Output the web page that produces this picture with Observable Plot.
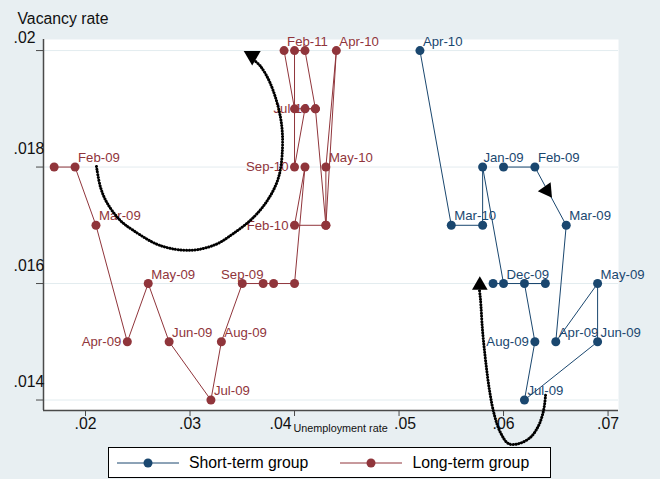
<!DOCTYPE html>
<html>
<head>
<meta charset="utf-8">
<script src="https://cdn.jsdelivr.net/npm/d3@7"></script>
<script src="https://cdn.jsdelivr.net/npm/@observablehq/plot@0.6"></script>
<style>
  html, body { margin: 0; padding: 0; background: #e8eff2; }
  body { width: 660px; height: 479px; overflow: hidden; position: relative;
         font-family: "Liberation Sans", Arial, Helvetica, sans-serif; }
  #chart svg { display: block; }
  #legend { position: absolute; left: 108px; top: 447px; width: 443px; height: 31px;
            box-sizing: border-box; background: #fff; border: 1px solid #000;
            display: flex; align-items: center; padding-left: 8px; }
  #legend .item { display: flex; align-items: center; }
  #legend .item + .item { margin-left: 32px; }
  #legend span { margin-left: 10px; font-size: 15.8px; color: #000; white-space: nowrap; }
</style>
</head>
<body>
<div id="chart"></div>
<div id="legend"></div>
<script>
// ---------- data ----------
const seriesNames = ["Short-term group", "Long-term group"];
const seriesColors = ["#1a476f", "#90353b"];

const shortMonths = ["Jan-09","Feb-09","Mar-09","Apr-09","May-09","Jun-09","Jul-09","Aug-09",
                     "Sep-09","Oct-09","Nov-09","Dec-09","Jan-10","Feb-10","Mar-10","Apr-10"];
const shortUnemployment = [0.060,0.063,0.066,0.065,0.069,0.069,0.062,0.063,
                           0.062,0.064,0.059,0.060,0.058,0.058,0.055,0.052];
const shortVacancy = [0.018,0.018,0.017,0.015,0.016,0.015,0.014,0.015,
                      0.016,0.016,0.016,0.016,0.018,0.017,0.017,0.020];
const shortLabelled = ["Jan-09","Feb-09","Mar-09","Apr-09","May-09","Jun-09","Jul-09","Aug-09",
                       "Dec-09","Mar-10","Apr-10"];

const longMonths = ["Jan-09","Feb-09","Mar-09","Apr-09","May-09","Jun-09","Jul-09","Aug-09",
                    "Sep-09","Oct-09","Nov-09","Dec-09","Jan-10","Feb-10","Mar-10","Apr-10",
                    "May-10","Jun-10","Jul-10","Aug-10","Sep-10","Oct-10","Nov-10","Dec-10",
                    "Jan-11","Feb-11"];
const longUnemployment = [0.017,0.019,0.021,0.024,0.026,0.028,0.032,0.033,
                          0.035,0.037,0.038,0.040,0.041,0.040,0.043,0.044,
                          0.043,0.043,0.042,0.041,0.040,0.040,0.041,0.042,
                          0.040,0.039];
const longVacancy = [0.018,0.018,0.017,0.015,0.016,0.015,0.014,0.015,
                     0.016,0.016,0.016,0.016,0.018,0.017,0.017,0.020,
                     0.018,0.017,0.019,0.019,0.018,0.020,0.020,0.019,
                     0.019,0.020];
const longLabelled = ["Feb-09","Mar-09","Apr-09","May-09","Jun-09","Jul-09","Aug-09","Sep-09",
                      "Feb-10","Apr-10","May-10","Jul-10","Sep-10","Feb-11"];

const xTicks = [0.02, 0.03, 0.04, 0.05, 0.06, 0.07];
const xTickLabels = [".02", ".03", ".04", ".05", ".06", ".07"];
const yTicks = [0.014, 0.016, 0.018, 0.02];
const yTickLabels = [".014", ".016", ".018", ".02"];
const xTitle = "Unemployment rate";
const yTitle = "Vacancy rate";

// annotation arrows (dotted arcs and heads), in data units
const arcLeftU = [0.02105,0.02144,0.02211,0.02335,0.02459,0.02718,0.03005,0.03244,0.03416,
                  0.03598,0.03742,0.03847,0.03885,0.03866,0.03770,0.03675,0.03617];
const arcLeftV = [0.01801,0.01765,0.01737,0.01708,0.01691,0.01665,0.01657,0.01667,0.01686,
                  0.01712,0.01743,0.01782,0.01834,0.01885,0.01943,0.01973,0.01983];
const arcRightU = [0.06402,0.06383,0.06335,0.06258,0.06144,0.06048,0.05971,0.05914,0.05866,
                   0.05828,0.05799,0.05780,0.05770];
const arcRightV = [0.01408,0.01382,0.01356,0.01336,0.01325,0.01325,0.01344,0.01373,0.01416,
                   0.01468,0.01519,0.01571,0.01588];
const headU = [0.03595, 0.06414, 0.05773];
const headV = [0.01991, 0.01760, 0.01597];

// ---------- presentation ----------
const labelSide = {
  "Short-term group": {"Aug-09": "left", "Jan-09": "above"},
  "Long-term group": {"Apr-09": "left", "Feb-10": "left", "Jul-10": "left", "Sep-10": "left", "Sep-09": "above"}
};
const headRotate = [180, 145, 0];
const xDomain = [0.01598, 0.0710];
const yDomain = [0.01382, 0.02019];

function build(name, months, u, v, labelled) {
  return months.map((m, i) => ({
    series: name, month: m, u: u[i], v: v[i],
    label: labelled.includes(m) ? m : "",
    side: labelSide[name][m] || "right"
  }));
}
const rows = [
  ...build(seriesNames[0], shortMonths, shortUnemployment, shortVacancy, shortLabelled),
  ...build(seriesNames[1], longMonths, longUnemployment, longVacancy, longLabelled)
];
const arcLeft = arcLeftU.map((u, i) => ({u, v: arcLeftV[i]}));
const arcRight = arcRightU.map((u, i) => ({u, v: arcRightV[i]}));
const heads = headU.map((u, i) => ({u, v: headV[i]}));
const xt = xTicks.map((t, i) => ({t, s: xTickLabels[i]}));
const yt = yTicks.map((t, i) => ({t, s: yTickLabels[i]}));

const font = "Liberation Sans, Arial, Helvetica, sans-serif";
const axisColor = "#4a4a4a";
const dotted = {stroke: "black", strokeWidth: 3, strokeDasharray: "0.1 2.7", strokeLinecap: "round", curve: "catmull-rom"};

const chart = Plot.plot({
  width: 660, height: 445,
  marginLeft: 43, marginRight: 42, marginTop: 39, marginBottom: 35,
  style: {background: "transparent", fontFamily: font, overflow: "visible"},
  x: {domain: xDomain, axis: null},
  y: {domain: yDomain, axis: null},
  color: {domain: seriesNames, range: seriesColors},
  marks: [
    Plot.frame({fill: "white", stroke: "none"}),
    Plot.ruleY(yTicks, {stroke: "#e3ecef", strokeWidth: 1}),
    Plot.ruleX([xDomain[0]], {stroke: axisColor, strokeWidth: 1.5}),
    Plot.ruleY([yDomain[0]], {stroke: axisColor, strokeWidth: 1.5}),
    Plot.axisY(yTicks, {anchor: "left", tickSize: 7, fill: "none", stroke: axisColor, label: null}),
    Plot.axisX(xTicks, {anchor: "bottom", tickSize: 6, fill: "none", stroke: axisColor, label: null}),
    // y tick labels (Stata style, above the ticks)
    Plot.text(yt.filter(d => d.t !== 0.02), {y: "t", text: "s", frameAnchor: "left", dx: -30, dy: -18,
      textAnchor: "start", fontSize: 15.8, fill: "#111"}),
    Plot.text(yt.filter(d => d.t === 0.02), {y: "t", text: "s", frameAnchor: "left", dx: -30, dy: -13,
      textAnchor: "start", fontSize: 15.8, fill: "#111"}),
    // x tick labels
    Plot.text(xt.filter(d => d.s !== ".04" && d.s !== ".05"), {x: "t", text: "s", frameAnchor: "bottom", dy: 18, fontSize: 15.8, fill: "#111"}),
    Plot.text(xt.filter(d => d.s === ".04"), {x: "t", text: "s", frameAnchor: "bottom", dy: 18, dx: -14, fontSize: 15.8, fill: "#111"}),
    Plot.text(xt.filter(d => d.s === ".05"), {x: "t", text: "s", frameAnchor: "bottom", dy: 18, dx: 6, fontSize: 15.8, fill: "#111"}),
    // axis titles
    Plot.text([xTitle], {frameAnchor: "bottom-left", dx: 250, dy: 21, textAnchor: "start", fontSize: 10.8, fill: "#111"}),
    Plot.text([yTitle], {frameAnchor: "top-left", dx: -26, dy: -16, textAnchor: "start", lineAnchor: "bottom", fontSize: 15.8, fill: "#111"}),
    // series
    Plot.line(rows, {x: "u", y: "v", z: "series", stroke: "series", strokeWidth: 1}),
    Plot.text(rows.filter(d => d.label && d.side === "right"), {x: "u", y: "v", text: "label", fill: "series",
      textAnchor: "start", lineAnchor: "bottom", dx: 3, dy: -5, fontSize: 13.2}),
    Plot.text(rows.filter(d => d.label && d.side === "left"), {x: "u", y: "v", text: "label", fill: "series",
      textAnchor: "end", lineAnchor: "middle", dx: -6, fontSize: 13.2}),
    Plot.text(rows.filter(d => d.label && d.side === "above"), {x: "u", y: "v", text: "label", fill: "series",
      textAnchor: "middle", lineAnchor: "bottom", dy: -5, fontSize: 13.2}),
    Plot.dot(rows, {x: "u", y: "v", fill: "series", r: 4.5, stroke: "none"}),
    // annotation arrows
    Plot.line(arcLeft, {x: "u", y: "v", ...dotted}),
    Plot.line(arcRight, {x: "u", y: "v", ...dotted}),
    Plot.dot(heads.slice(0, 1), {x: "u", y: "v", symbol: "triangle", r: 6.3, fill: "black", stroke: "none", rotate: headRotate[0]}),
    Plot.dot(heads.slice(1, 2), {x: "u", y: "v", symbol: "triangle", r: 5.8, fill: "black", stroke: "none", rotate: headRotate[1]}),
    Plot.dot(heads.slice(2, 3), {x: "u", y: "v", symbol: "triangle", r: 5.8, fill: "black", stroke: "none", rotate: headRotate[2]})
  ]
});
document.getElementById("chart").appendChild(chart);

// legend
const legend = d3.select("#legend");
seriesNames.forEach((name, i) => {
  const item = legend.append("div").attr("class", "item");
  const svg = item.append("svg").attr("width", 62).attr("height", 12);
  svg.append("line").attr("x1", 0).attr("x2", 62).attr("y1", 6).attr("y2", 6)
     .attr("stroke", seriesColors[i]).attr("stroke-width", 1);
  svg.append("circle").attr("cx", 31).attr("cy", 6).attr("r", 4.5).attr("fill", seriesColors[i]);
  item.append("span").text(name);
});
</script>
</body>
</html>
